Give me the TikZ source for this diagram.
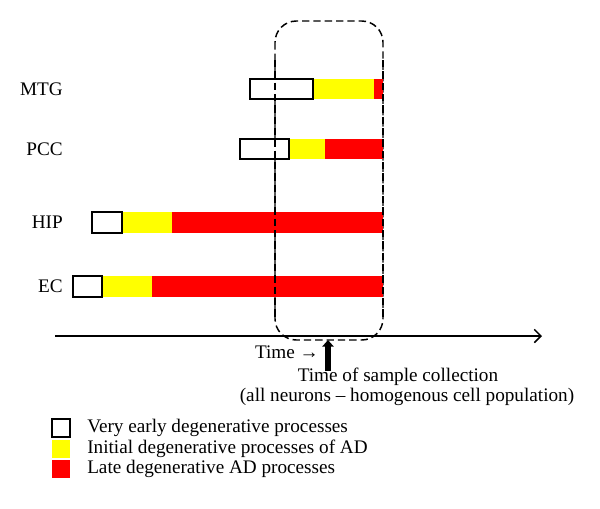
\documentclass[tikz,border=0pt]{standalone}
\usepackage{fontspec}
\setmainfont{Liberation Serif}
\usetikzlibrary{arrows.meta}
\definecolor{adyellow}{RGB}{255,255,0}
\definecolor{adred}{RGB}{255,0,0}
\begin{document}
\begin{tikzpicture}[x=0.75pt,y=-0.75pt,
  lbl/.style={font=\fontsize{14.4}{16}\selectfont, inner sep=0pt},
  early/.style={draw=black, line width=1.2pt, fill=white},
  init/.style={fill=adyellow},
  late/.style={fill=adred},
  dsh/.style={line width=1.1pt, dash pattern=on 5.5pt off 3pt}]
\useasboundingbox (0,0) rectangle (600,508);
% dashed rounded box
\draw[dsh, rounded corners=16pt] (275,21) rectangle (383,340);
% axis
\coordinate (ax0) at (55,336);
\coordinate (ax1) at (542,336);
\draw[line width=1.1pt, -{Straight Barb[length=5pt,width=10pt]}] (ax0) -- (ax1);
% MTG
\node[lbl, anchor=east] (mtg) at (63,89) {MTG};
\fill[init] (313,79) rectangle (374,99);
\fill[late] (374,79) rectangle (383,99);
\draw[early] (250,79) rectangle (313,99);
% PCC
\node[lbl, anchor=east] (pcc) at (63,149) {PCC};
\fill[init] (289,139) rectangle (325,159);
\fill[late] (325,139) rectangle (383,159);
\draw[early] (240,139) rectangle (289,159);
% HIP
\node[lbl, anchor=east] (hip) at (63,222) {HIP};
\fill[init] (122,212) rectangle (172,233);
\fill[late] (172,212) rectangle (383,233);
\draw[early] (92,212) rectangle (122,233);
% EC
\node[lbl, anchor=east] (ec) at (63,286) {EC};
\fill[init] (102,276) rectangle (152,297);
\fill[late] (152,276) rectangle (383,297);
\draw[early] (73,276) rectangle (102,297);
% redraw dashed verticals over bars
\draw[dsh] (275,60) -- (275,320);
\draw[dsh] (383,60) -- (383,320);
% time label and arrow
\node[lbl] (time) at (287,352) {Time \symbol{"2192}};
\coordinate (sa0) at (328,371);
\coordinate (sa1) at (328,340);
\draw[line width=4.2pt, -{Triangle[length=5pt,width=8.5pt]}] (sa0) -- (sa1);
\node[lbl] (tsc) at (398,377) {Time of sample collection};
\node[lbl] (all) at (407,397) {(all neurons – homogenous cell population)};
% legend
\draw[early] (52,419) rectangle (70,437);
\fill[init] (52,440) rectangle (70,458);
\fill[late] (52,460) rectangle (70,478);
\node[lbl, anchor=west] (l1) at (87,428) {Very early degenerative processes};
\node[lbl, anchor=west] (l2) at (87,449) {Initial degenerative processes of AD};
\node[lbl, anchor=west] (l3) at (87,469) {Late degenerative AD processes};
\end{tikzpicture}
\end{document}
